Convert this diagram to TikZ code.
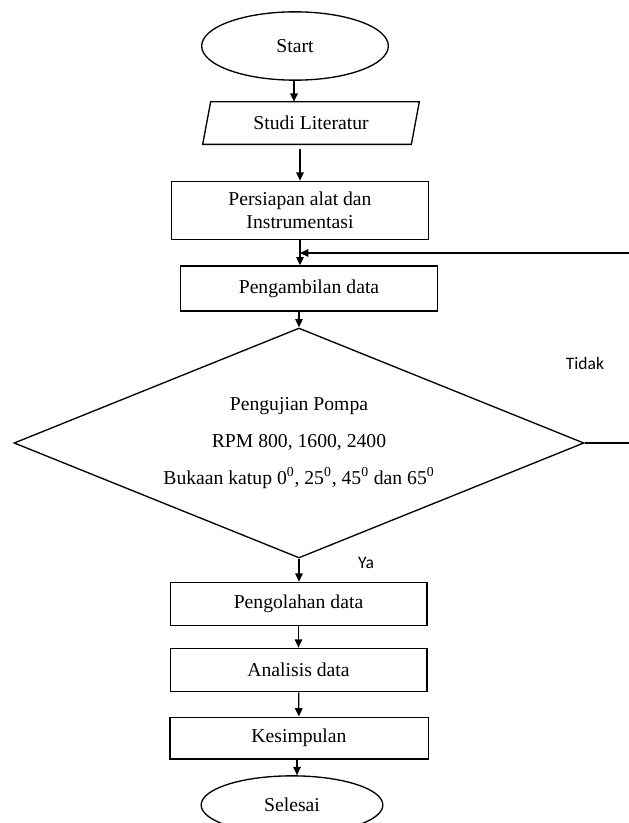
\documentclass[tikz,border=0pt]{standalone}
\usepackage{fontspec}
\setmainfont{Liberation Serif}
\newfontfamily\labelfont{Carlito}
\usepackage{tikz}
\usetikzlibrary{shapes.geometric,arrows.meta}

\tikzset{
  proc/.style={rectangle,draw,line width=0.8pt,minimum height=26pt,align=center,inner sep=2pt},
  term/.style={ellipse,draw,line width=0.8pt,inner sep=0pt},
  arr/.style={line width=0.8pt,-{Triangle[length=5pt,width=4.5pt]}},
  lbl/.style={font=\labelfont\fontsize{10.5}{12}\selectfont,inner sep=0pt}
}

\begin{document}
\begin{tikzpicture}[x=0.6pt,y=-0.6pt,font=\fontsize{11.8}{14}\selectfont]
\useasboundingbox (0,0) rectangle (628,823);

\node[term,minimum width=112pt,minimum height=41pt] (start) at (295, 46) {Start};
\node[minimum width=124.8pt,minimum height=25.2pt,inner sep=1pt] (studi) at (311, 123) {Studi Literatur};
\draw[line width=0.8pt] ([xshift=2.4pt]studi.north west) -- ([xshift=2.4pt]studi.north east)
  -- ([xshift=-2.4pt]studi.south east) -- ([xshift=-2.4pt]studi.south west) -- cycle;
\node[proc,minimum width=154pt,minimum height=35pt] (persiapan) at (300, 210.5) {Persiapan alat dan\\Instrumentasi};
\node[proc,minimum width=154pt,minimum height=27pt] (pengambilan) at (309, 288.5) {Pengambilan data};
\node[diamond,draw,line width=0.8pt,aspect=2.48,minimum width=342pt,minimum height=138pt,
      align=center,inner sep=0pt] (uji) at (299, 443)
      {Pengujian Pompa\\[8pt]RPM 800, 1600, 2400\\[8pt]Bukaan katup 0\textsuperscript{0}, 25\textsuperscript{0}, 45\textsuperscript{0} dan 65\textsuperscript{0}};
\node[proc,minimum width=154pt] (olah) at (298.5, 604) {Pengolahan data};
\node[proc,minimum width=154pt] (analisis) at (298.5, 670) {Analisis data};
\node[proc,minimum width=155pt,minimum height=25pt] (kesimpulan) at (299, 738) {Kesimpulan};
\node[term,minimum width=109pt,minimum height=35pt] (selesai) at (292, 805) {Selesai};

\node[lbl] (tidak) at (585, 363) {Tidak};
\node[lbl] (ya) at (366, 563) {Ya};

\coordinate (loopA) at (640, 443);
\coordinate (loopB) at (640, 253);

% main flow
\draw[arr] (start.south -| 294,0) -- (294,0 |- studi.north);
\draw[arr] ([yshift=-3pt]studi.south -| persiapan.north) -- (persiapan.north);
\draw[arr] (persiapan.south) -- (persiapan.south |- pengambilan.north);
\draw[arr] (pengambilan.south -| uji.north) -- (uji.north);
\draw[arr] (uji.south) -- (uji.south |- olah.north);
\draw[arr] (olah) -- (analisis);
\draw[arr] (analisis) -- (kesimpulan);
\draw[arr] (kesimpulan.south -| 297,0) -- (297,0 |- selesai.north);

% back to data taking
\draw[arr] (uji.east) -- (loopA) -- (loopB) -- (loopB -| persiapan.south);

\end{tikzpicture}
\end{document}
